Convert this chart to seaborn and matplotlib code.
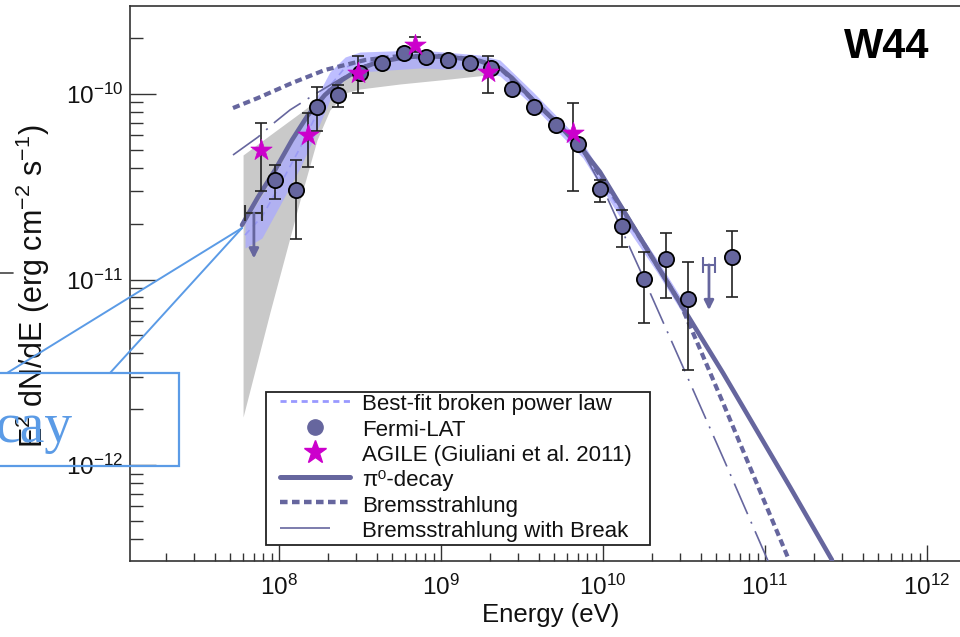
import matplotlib
matplotlib.use("Agg")
import numpy as np
import pandas as pd
import matplotlib.pyplot as plt
import seaborn as sns
from matplotlib.lines import Line2D
from matplotlib.patches import Rectangle
from matplotlib.ticker import LogLocator, NullFormatter, FixedLocator

# ---------------- data ----------------
fermi_E = [9.45e7, 1.27e8, 1.72e8, 2.31e8, 3.16e8, 4.32e8, 5.91e8, 8.07e8, 1.10e9,
           1.51e9, 2.04e9, 2.74e9, 3.75e9, 5.13e9, 7.01e9, 9.58e9, 1.31e10, 1.79e10,
           2.45e10, 3.35e10, 6.25e10]
fermi_F = [3.44e-11, 3.04e-11, 8.51e-11, 9.88e-11, 1.30e-10, 1.47e-10, 1.66e-10, 1.58e-10,
           1.52e-10, 1.47e-10, 1.38e-10, 1.06e-10, 8.51e-11, 6.81e-11, 5.38e-11, 3.08e-11,
           1.94e-11, 1.01e-11, 1.29e-11, 7.85e-12, 1.32e-11]
fermi_lo = [2.72e-11, 1.65e-11, 6.32e-11, 8.51e-11, 1.30e-10, 1.47e-10, 1.66e-10, 1.58e-10,
            1.52e-10, 1.47e-10, 1.38e-10, 1.06e-10, 8.51e-11, 6.81e-11, 5.38e-11, 2.62e-11,
            1.50e-11, 5.83e-12, 7.95e-12, 3.25e-12, 8.05e-12]
fermi_hi = [4.14e-11, 4.41e-11, 1.09e-10, 1.12e-10, 1.30e-10, 1.47e-10, 1.66e-10, 1.58e-10,
            1.52e-10, 1.47e-10, 1.38e-10, 1.06e-10, 8.51e-11, 6.81e-11, 5.38e-11, 3.44e-11,
            2.37e-11, 1.41e-11, 1.78e-11, 1.24e-11, 1.83e-11]

ul_E = [7.0e7, 4.51e10]
ul_F = [2.28e-11, 1.20e-11]
ul_Elo = [6.17e7, 4.14e10]
ul_Ehi = [7.85e7, 4.91e10]

agile_E = [7.74e7, 1.51e8, 3.08e8, 6.92e8, 1.95e9, 6.53e9]
agile_F = [4.99e-11, 6.01e-11, 1.30e-10, 1.84e-10, 1.31e-10, 6.16e-11]
agile_lo = [3.0e-11, 4.04e-11, 1.01e-10, 1.68e-10, 1.01e-10, 3.0e-11]
agile_hi = [6.98e-11, 7.9e-11, 1.60e-10, 2.03e-10, 1.60e-10, 8.94e-11]

pion_E = [5.91e7, 7.42e7, 9.45e7, 1.203e8, 1.51e8, 1.92e8, 2.45e8, 3.07e8, 3.91e8, 5.58e8,
          7.42e8, 1.137e9, 1.74e9, 2.31e9, 2.74e9, 3.70e9, 5.20e9, 7.52e9, 9.58e9, 1.531e10,
          2.99e10, 5.51e10, 1.427e11, 2.59e11]
pion_F = [1.967e-11, 2.78e-11, 3.89e-11, 5.65e-11, 7.70e-11, 9.88e-11, 1.19e-10, 1.347e-10,
          1.469e-10, 1.563e-10, 1.603e-10, 1.583e-10, 1.506e-10, 1.381e-10, 1.22e-10, 9.28e-11,
          6.98e-11, 4.99e-11, 3.80e-11, 1.943e-11, 7.47e-12, 3.13e-12, 7.61e-13, 3.08e-13]

brems_E = [5.2e7, 7.42e7, 1.203e8, 1.92e8, 3.40e8, 5.58e8, 1.137e9, 1.74e9, 2.31e9, 3.70e9,
           5.20e9, 7.52e9, 1.329e10, 2.15e10, 2.99e10, 3.97e10, 5.51e10, 8.93e10, 1.406e11]
brems_F = [8.40e-11, 9.52e-11, 1.146e-10, 1.347e-10, 1.525e-10, 1.603e-10, 1.603e-10, 1.506e-10,
           1.381e-10, 9.28e-11, 6.98e-11, 4.99e-11, 2.37e-11, 1.197e-11, 7.47e-12, 4.22e-12,
           2.16e-12, 7.90e-13, 3.08e-13]

brk_E = [5.2e7, 7.42e7, 9.45e7, 1.169e8, 1.716e8, 2.45e8, 3.40e8, 5.58e8, 1.137e9, 1.74e9,
         2.31e9, 3.70e9, 5.20e9, 7.52e9, 1.029e10, 1.692e10, 3.12e10, 5.66e10, 1.044e11]
brk_F = [4.69e-11, 5.86e-11, 7.06e-11, 8.20e-11, 1.013e-10, 1.22e-10, 1.433e-10, 1.563e-10,
         1.583e-10, 1.506e-10, 1.381e-10, 9.28e-11, 6.81e-11, 4.87e-11, 2.93e-11, 1.125e-11,
         3.37e-12, 1.038e-12, 3.04e-13]

gray_E = [6.0e7, 8.80e7, 1.348e8, 1.716e8, 2.06e8, 2.56e8, 3.16e8, 5.58e8, 1.137e9, 1.923e9, 2.31e9]
gray_hi = [4.69e-11, 6.01e-11, 7.90e-11, 9.28e-11, 1.077e-10, 1.266e-10, 1.433e-10, 1.622e-10,
           1.622e-10, 1.563e-10, 1.433e-10]
gray_lo = [1.815e-12, 6.68e-12, 2.68e-11, 5.65e-11, 8.20e-11, 1.013e-10, 1.064e-10, 1.132e-10,
           1.205e-10, 1.266e-10, 1.347e-10]

bpl_E = [6.17e7, 7.85e7, 1.014e8, 1.348e8, 1.668e8, 2.06e8, 2.56e8, 3.16e8, 7.42e8, 1.74e9,
         2.31e9, 3.70e9, 7.52e9, 1.329e10, 2.15e10, 3.35e10]
bpl_hi = [2.04e-11, 2.85e-11, 4.14e-11, 6.56e-11, 9.28e-11, 1.314e-10, 1.583e-10, 1.684e-10,
          1.726e-10, 1.622e-10, 1.525e-10, 1.025e-10, 5.44e-11, 2.40e-11, 1.29e-11, 6.93e-12]
bpl_lo = [1.478e-11, 1.674e-11, 2.52e-11, 3.99e-11, 6.01e-11, 9.28e-11, 1.22e-10, 1.314e-10,
          1.381e-10, 1.347e-10, 1.25e-10, 8.62e-11, 4.52e-11, 2.04e-11, 1.098e-11, 5.90e-12]

x_ticks = [1e8, 1e9, 1e10, 1e11, 1e12]
y_ticks = [1e-12, 1e-11, 1e-10]

legend_labels = ["Best-fit broken power law", "Fermi-LAT", "AGILE (Giuliani et al. 2011)",
                 "\u03c0\u2070-decay", "Bremsstrahlung", "Bremsstrahlung with Break"]

# ---------------- style ----------------
sns.set_theme(style="ticks")
plt.rcParams["font.family"] = ["Liberation Sans", "DejaVu Sans"]
plt.rcParams["mathtext.fontset"] = "custom"
plt.rcParams["mathtext.rm"] = "Liberation Sans"
plt.rcParams["mathtext.it"] = "Liberation Sans:italic"
plt.rcParams["mathtext.bf"] = "Liberation Sans:bold"

SLATE = "#66669e"
LBLUE = "#a9a9ff"
MAG = "#cc00cc"
ANN = "#5b9be6"

fig = plt.figure(figsize=(9.6, 6.37), dpi=100)
W, H = 960.0, 637.0
ax = fig.add_axes([130 / W, 1 - 561 / H, 835 / W, 555 / H])
ax.set_xscale("log")
ax.set_yscale("log")

# bands
ax.fill_between(gray_E, gray_lo, gray_hi, color="#c9c9c9", lw=0, zorder=1)
ax.fill_between(bpl_E, bpl_lo, bpl_hi, color=LBLUE, lw=0, alpha=0.75, zorder=2)
bpl_mid = list(np.sqrt(np.array(bpl_lo) * np.array(bpl_hi)))
sns.lineplot(x=bpl_E, y=bpl_mid, ax=ax, color="#9a9af5", lw=1.2, linestyle=(0, (4, 3)),
             sort=False, estimator=None, zorder=2.5)

# model curves
sns.lineplot(x=brk_E, y=brk_F, ax=ax, color=SLATE, lw=1.2, linestyle=(0, (20, 5, 1.2, 5)),
             sort=False, estimator=None, zorder=3)
sns.lineplot(x=brems_E, y=brems_F, ax=ax, color=SLATE, lw=3.0, linestyle=(0, (1.7, 1.0)),
             sort=False, estimator=None, zorder=3.2)
sns.lineplot(x=pion_E, y=pion_F, ax=ax, color=SLATE, lw=3.3, sort=False, estimator=None,
             zorder=3.5)

# error bars
fF = np.array(fermi_F)
ax.errorbar(fermi_E, fermi_F, yerr=[fF - np.array(fermi_lo), np.array(fermi_hi) - fF],
            fmt="none", ecolor="#222222", elinewidth=1.2, capsize=4, capthick=1.2, zorder=4)
aF = np.array(agile_F)
ax.errorbar(agile_E, agile_F, yerr=[aF - np.array(agile_lo), np.array(agile_hi) - aF],
            fmt="none", ecolor="#222222", elinewidth=1.2, capsize=4, capthick=1.2, zorder=4)

# upper limits
ul_colors = ["#333333", SLATE]
for e, f, elo, ehi, c in zip(ul_E, ul_F, ul_Elo, ul_Ehi, ul_colors):
    ax.errorbar([e], [f], xerr=[[e - elo], [ehi - e]], fmt="none", ecolor=c,
                elinewidth=1.5, capsize=5.5, capthick=1.5, zorder=4)
    ax.annotate("", xy=(e, f * 0.57), xytext=(e, f),
                arrowprops=dict(arrowstyle="-|>", color=SLATE, lw=2.0, mutation_scale=14,
                                shrinkA=0, shrinkB=0), zorder=4)

# markers
sns.scatterplot(x=fermi_E, y=fermi_F, ax=ax, marker="o", s=120, color=SLATE,
                edgecolor="black", linewidth=1.3, zorder=5)
sns.scatterplot(x=agile_E, y=agile_F, ax=ax, marker="*", s=260, color=MAG,
                edgecolor=MAG, linewidth=0.5, zorder=6)

# axes
ax.set_xlim(1.203e7, 1.716e12)
ax.set_ylim(3.04e-13, 2.98e-10)
ax.xaxis.set_major_locator(FixedLocator(x_ticks))
ax.xaxis.set_minor_locator(LogLocator(base=10, subs=np.arange(2, 10), numticks=20))
ax.yaxis.set_major_locator(FixedLocator(y_ticks))
ax.yaxis.set_minor_locator(LogLocator(base=10, subs=np.arange(2, 10), numticks=20))
ax.xaxis.set_minor_formatter(NullFormatter())
ax.yaxis.set_minor_formatter(NullFormatter())
ax.tick_params(axis="both", which="both", direction="in", top=False, right=False,
               color="#333333", width=1.0, labelsize=17.5, labelcolor="#111111")
ax.tick_params(axis="y", which="major", length=18.5, pad=5)
ax.tick_params(axis="y", which="minor", length=9.5)
ax.tick_params(axis="x", which="major", length=11.5, pad=10)
ax.tick_params(axis="x", which="minor", length=5.8)
for s in ["left", "bottom", "top", "right"]:
    ax.spines[s].set_color("#333333")
    ax.spines[s].set_linewidth(1.2)

ax.set_xlabel("Energy (eV)", fontsize=18.5, color="#111111")
ax.xaxis.set_label_coords(0.504, -0.075)
ax.set_ylabel(r"E$^2$ dN/dE (erg cm$^{-2}$ s$^{-1}$)", fontsize=22, color="#111111")
ax.yaxis.set_label_coords(-0.093, 0.495)

# title tag
fig.text(887 / W, 1 - 47 / H, "W44", fontsize=30, fontweight="bold", ha="center",
         va="center", color="black")

# legend box + legend
fig.add_artist(Rectangle((266 / W, 1 - 545 / H), (650 - 266) / W, (545 - 392) / H,
                         transform=fig.transFigure, facecolor="white", edgecolor="#222222",
                         lw=1.3, zorder=4))
handles = [
    Line2D([], [], color="#9999ff", lw=2.0, linestyle=(0, (2.2, 1.6))),
    Line2D([], [], color=SLATE, marker="o", markersize=11, linestyle="none"),
    Line2D([], [], color=MAG, marker="*", markersize=17, linestyle="none"),
    Line2D([], [], color=SLATE, lw=3.6),
    Line2D([], [], color=SLATE, lw=3.2, linestyle=(0, (1.7, 1.0))),
    Line2D([], [], color=SLATE, lw=1.2, linestyle=(0, (30, 20, 1.2, 5))),
]
leg = fig.legend(handles, legend_labels, loc="upper left",
                 bbox_to_anchor=(280 / W, 1 - 392 / H), bbox_transform=fig.transFigure,
                 frameon=False, fontsize=16, handlelength=3.15, handletextpad=0.55,
                 handleheight=1.14, labelspacing=0.08, borderpad=0, borderaxespad=0)
leg.set_zorder(5)
for t in leg.get_texts():
    t.set_color("#111111")

# slide annotation overlay
fig.add_artist(Line2D([7 / W, 242 / W], [1 - 373 / H, 1 - 228 / H], color=ANN, lw=1.4,
                      transform=fig.transFigure, zorder=7))
fig.add_artist(Line2D([110 / W, 242 / W], [1 - 373 / H, 1 - 228 / H], color=ANN, lw=1.4,
                      transform=fig.transFigure, zorder=7))
fig.add_artist(Rectangle((-10 / W, 1 - 466 / H), 189 / W, 93 / H, transform=fig.transFigure,
                         fill=False, edgecolor=ANN, lw=1.6, zorder=7))
fig.text(-4 / W, 1 - 442 / H, "cay", fontsize=40, family="Liberation Serif", color=ANN,
         ha="left", va="baseline", zorder=8)
fig.add_artist(Line2D([0, 13 / W], [1 - 273 / H, 1 - 273 / H], color="#444444", lw=1.2,
                      transform=fig.transFigure))

fig.savefig("out.png", dpi=100)
